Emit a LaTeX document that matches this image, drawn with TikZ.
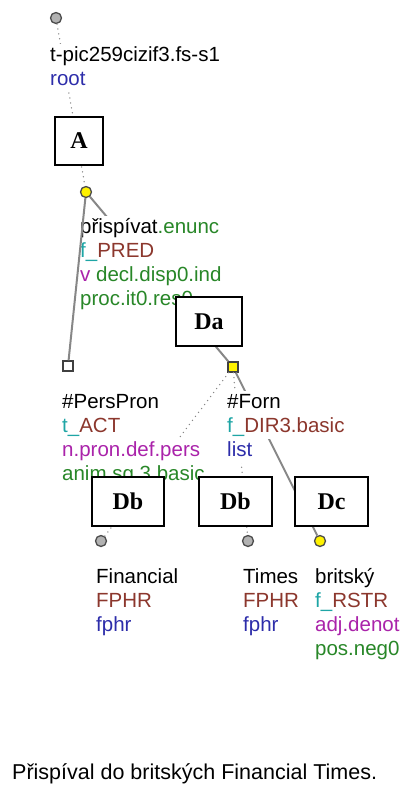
\documentclass[tikz,border=0pt]{standalone}
\usepackage{fontspec}
\setmainfont{Liberation Sans}
\newfontfamily\tagfont{Liberation Serif}

\definecolor{tgreen}{RGB}{40,135,40}
\definecolor{tcyan}{RGB}{30,165,165}
\definecolor{tbrown}{RGB}{140,55,45}
\definecolor{tmagenta}{RGB}{170,35,170}
\definecolor{tblue}{RGB}{45,45,170}
\definecolor{edgegray}{RGB}{135,135,135}

\tikzset{
	lbl/.style={anchor=base west, inner sep=0pt, fill=white, text height=17.5, text depth=7,
		font=\fontsize{20.5}{24}\selectfont},
	tagbox/.style={draw=black, line width=1.6pt, fill=white, inner sep=0pt, minimum height=49,
		font=\tagfont\bfseries\fontsize{24}{24}\selectfont},
	gcirc/.style={circle, draw=black!70, line width=1.3pt, fill=gray!60, minimum size=11, inner sep=0pt},
	ycirc/.style={gcirc, fill=yellow},
	wsq/.style={rectangle, draw=black!75, line width=1.3pt, fill=white, minimum size=10, inner sep=0pt},
	ysq/.style={wsq, fill=yellow},
	solidedge/.style={draw=edgegray, line width=2pt},
	dotedge/.style={draw=edgegray, line width=1.5pt, line cap=round, dash pattern=on 0pt off 5pt}
}

\begin{document}
\begin{tikzpicture}[x=1pt, y=-1pt]
\useasboundingbox (0,0) rectangle (403,790);

	% tree nodes
	\node[gcirc] (root) at (56,18) {};
	\node[ycirc] (pris) at (86,192) {};
	\node[wsq] (pers) at (68,366) {};
	\node[ysq] (forn) at (233,367) {};
	\node[gcirc] (fin) at (101,541) {};
	\node[gcirc] (times) at (248,541) {};
	\node[ycirc] (brit) at (320,541) {};

	% edges
	\draw[dotedge] (root) -- (pris);
	\draw[solidedge] (pris) -- (forn);
	\draw[dotedge] (forn) -- (fin);
	\draw[dotedge] (forn) -- (times);
	\draw[solidedge] (forn) -- (brit);

	% labels
	\node[lbl] (root1) at (50,61) {t-pic259cizif3.fs-s1};
	\node[lbl, text=tblue] (root2) at (50,85) {root};

	\node[lbl] (pris1) at (80,233) {přispívat\textcolor{tgreen}{.enunc}};
	\node[lbl] (pris2) at (80,257) {\textcolor{tcyan}{f\_}\textcolor{tbrown}{PRED}};
	\node[lbl] (pris3) at (80,281) {\textcolor{tmagenta}{v} \textcolor{tgreen}{decl.disp0.ind}};
	\node[lbl, text=tgreen] (pris4) at (80,305) {proc.it0.res0};

	\node[lbl] (pers1) at (62,408) {\#PersPron};
	\node[lbl] (pers2) at (62,432) {\textcolor{tcyan}{t\_}\textcolor{tbrown}{ACT}};
	\node[lbl, text=tmagenta] (pers3) at (62,456) {n.pron.def.pers};
	\node[lbl, text=tgreen] (pers4) at (62,480) {anim.sg.3.basic};

	\node[lbl] (forn1) at (227,408) {\#Forn};
	\node[lbl] (forn2) at (227,432) {\textcolor{tcyan}{f\_}\textcolor{tbrown}{DIR3.basic}};
	\node[lbl, text=tblue] (forn3) at (227,456) {list};

	\node[lbl] (fin1) at (96,583) {Financial};
	\node[lbl, text=tbrown] (fin2) at (96,607) {FPHR};
	\node[lbl, text=tblue] (fin3) at (96,631) {fphr};

	\node[lbl] (times1) at (243,583) {Times};
	\node[lbl, text=tbrown] (times2) at (243,607) {FPHR};
	\node[lbl, text=tblue] (times3) at (243,631) {fphr};

	\node[lbl] (brit1) at (315,583) {britský};
	\node[lbl] (brit2) at (315,607) {\textcolor{tcyan}{f\_}\textcolor{tbrown}{RSTR}};
	\node[lbl, text=tmagenta] (brit3) at (315,631) {adj.denot};
	\node[lbl, text=tgreen] (brit4) at (315,655) {pos.neg0};

	\draw[solidedge] (pris) -- (pers);

	% boxes
	\node[tagbox, minimum width=48, minimum height=48] (tagA) at (79,141) {A};
	\node[tagbox, minimum width=66] (tagDa) at (209,321.5) {Da};
	\node[tagbox, minimum width=72] (tagDb) at (128,501.5) {Db};
	\node[tagbox, minimum width=73] (tagDbb) at (235.5,501.5) {Db};
	\node[tagbox, minimum width=73] (tagDc) at (331.5,501.5) {Dc};

	\node[lbl, font=\fontsize{21.5}{24}\selectfont] (sent) at (12,779) {Přispíval do britských Financial Times.};
\end{tikzpicture}
\end{document}
